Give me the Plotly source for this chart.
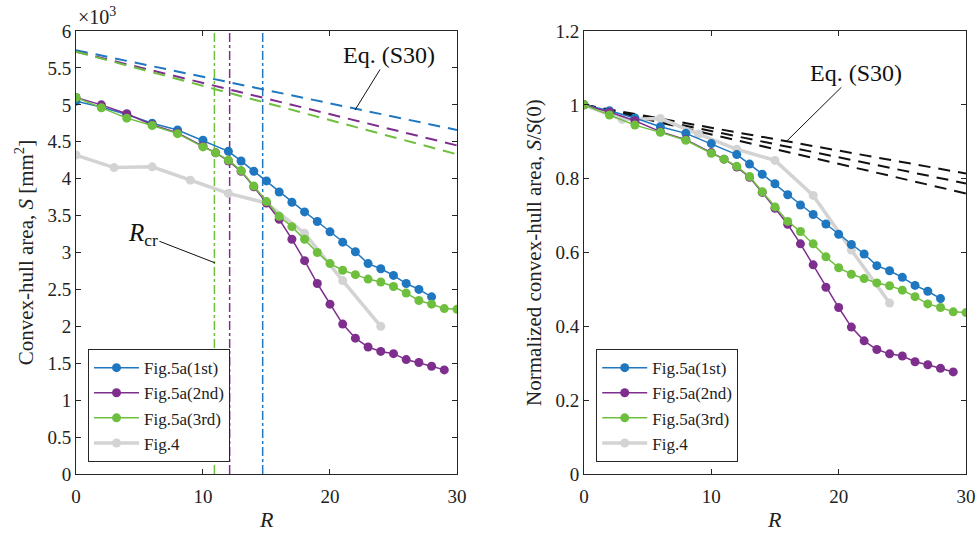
import plotly.graph_objects as go

# ---------------- data ----------------
R_1st = [0, 2, 4, 6, 8, 10, 12, 13, 14, 15, 16, 17, 18, 19, 20, 21, 22, 23, 24, 25, 26, 27, 28]
S_1st = [5.05, 4.97, 4.87, 4.75, 4.66, 4.52, 4.37, 4.24, 4.10, 3.97, 3.82, 3.68, 3.55, 3.42,
         3.28, 3.14, 3.01, 2.85, 2.78, 2.69, 2.58, 2.50, 2.40]

R_2nd = [0, 2, 4, 6, 8, 10, 11, 12, 13, 14, 15, 16, 17, 18, 19, 20, 21, 22, 23, 24, 25, 26, 27, 28, 29]
S_2nd = [5.10, 5.00, 4.88, 4.73, 4.62, 4.44, 4.35, 4.24, 4.10, 3.89, 3.67, 3.45, 3.18, 2.89,
         2.58, 2.30, 2.03, 1.84, 1.72, 1.66, 1.63, 1.55, 1.51, 1.46, 1.41]

R_3rd = [0, 2, 4, 6, 8, 10, 11, 12, 13, 14, 15, 16, 17, 18, 19, 20, 21, 22, 23, 24, 25, 26, 27,
         28, 29, 30]
S_3rd = [5.10, 4.96, 4.82, 4.72, 4.61, 4.43, 4.35, 4.25, 4.11, 3.90, 3.69, 3.49, 3.35, 3.18,
         3.00, 2.85, 2.76, 2.70, 2.64, 2.60, 2.54, 2.45, 2.35, 2.30, 2.24, 2.23]

R_fig4 = [0, 3, 6, 9, 12, 15, 18, 21, 24]
S_fig4 = [4.32, 4.15, 4.16, 3.98, 3.80, 3.67, 3.26, 2.62, 2.00]

# Eq. (S30) dashed lines (values at R = 0 and R = 30), left panel, x10^3 mm^2
R_eq = [0, 30]
S_eq_1st = [5.74, 4.66]
S_eq_2nd = [5.72, 4.45]
S_eq_3rd = [5.72, 4.33]
# Eq. (S30) normalized, right panel
N_eq = [[1.0, 0.814], [1.0, 0.787], [1.0, 0.760]]

# critical R (vertical dash-dot lines)
Rcr_1st = 14.7
Rcr_2nd = 12.1
Rcr_3rd = 10.9

names = ["Fig.5a(1st)", "Fig.5a(2nd)", "Fig.5a(3rd)", "Fig.4"]

# ---------------- styles ----------------
C_BLUE = "#1f77c0"
C_PURP = "#7E2F8E"
C_GREEN = "#6fbf3f"
C_GRAY = "#d3d3d3"
FONT = "Liberation Serif"
AX = "#262626"

series = [
    (R_1st, S_1st, C_BLUE, 1.5, names[0]),
    (R_2nd, S_2nd, C_PURP, 1.5, names[1]),
    (R_3rd, S_3rd, C_GREEN, 1.5, names[2]),
    (R_fig4, S_fig4, C_GRAY, 3.5, names[3]),
]

fig = go.Figure()

# ---- left panel ----
for S_eq, col in [(S_eq_1st, C_BLUE), (S_eq_2nd, C_PURP), (S_eq_3rd, C_GREEN)]:
    fig.add_trace(go.Scatter(x=R_eq, y=S_eq, mode="lines", showlegend=False,
                             line=dict(color=col, width=2, dash="12px,8px"),
                             xaxis="x", yaxis="y", hoverinfo="skip"))
for rc, col in [(Rcr_1st, C_BLUE), (Rcr_2nd, C_PURP), (Rcr_3rd, C_GREEN)]:
    fig.add_trace(go.Scatter(x=[rc, rc], y=[0, 6], mode="lines", showlegend=False,
                             line=dict(color=col, width=1.5, dash="dashdot"),
                             xaxis="x", yaxis="y", hoverinfo="skip"))

order = [3, 0, 1, 2]
for i in order:
    R, S, col, w, nm = series[i]
    fig.add_trace(go.Scatter(x=R, y=S, mode="lines+markers", name=nm,
                             line=dict(color=col, width=w),
                             marker=dict(color=col, size=9),
                             xaxis="x", yaxis="y", legend="legend",
                             legendrank=i + 1))

# ---- right panel ----
for ne in N_eq:
    fig.add_trace(go.Scatter(x=R_eq, y=ne, mode="lines", showlegend=False,
                             line=dict(color="#111111", width=2, dash="12px,8px"),
                             xaxis="x2", yaxis="y2", hoverinfo="skip"))
for i in order:
    R, S, col, w, nm = series[i]
    N = [s / S[0] for s in S]
    fig.add_trace(go.Scatter(x=R, y=N, mode="lines+markers", name=nm,
                             line=dict(color=col, width=w),
                             marker=dict(color=col, size=9),
                             xaxis="x2", yaxis="y2", legend="legend2",
                             legendrank=i + 1))

axis_common = dict(showgrid=False, zeroline=False, showline=True, linecolor=AX,
                   linewidth=1, mirror="ticks", ticks="inside", ticklen=5,
                   tickcolor=AX, tickfont=dict(family=FONT, size=19, color="#222"),
                   automargin=False)

legend_common = dict(xanchor="left", yanchor="top", bgcolor="white",
                     bordercolor=AX, borderwidth=1,
                     font=dict(family=FONT, size=17), tracegroupgap=0,
                     itemwidth=45)

fig.update_layout(
    width=979, height=533,
    margin=dict(l=0, r=0, t=0, b=0),
    paper_bgcolor="white", plot_bgcolor="white",
    font=dict(family=FONT, color="#222"),
    xaxis=dict(domain=[0.0776, 0.4668], range=[0, 30], tickvals=[0, 10, 20, 30],
               ticklabelstandoff=5, anchor="y", **axis_common),
    yaxis=dict(domain=[0.1107, 0.9418], range=[0, 6], dtick=0.5,
               title=dict(text="Convex-hull area, <i>S</i> [mm<sup>2</sup>]",
                          font=dict(family=FONT, size=21), standoff=8),
               anchor="x", **axis_common),
    xaxis2=dict(domain=[0.5965, 0.9867], range=[0, 30], tickvals=[0, 10, 20, 30],
                ticklabelstandoff=5, anchor="y2", **axis_common),
    yaxis2=dict(domain=[0.1107, 0.9418], range=[0, 1.2], dtick=0.2,
                title=dict(text="Normalized convex-hull area, <i>S</i>/<i>S</i>(0)",
                           font=dict(family=FONT, size=21), standoff=8),
                anchor="x2", **axis_common),
    legend=dict(x=0.0899, y=0.345, **legend_common),
    legend2=dict(x=0.609, y=0.345, **legend_common),
    showlegend=True,
)

# x-axis titles
for xc in [(0.0776 + 0.4668) / 2, (0.5965 + 0.9867) / 2]:
    fig.add_annotation(xref="paper", yref="paper", x=xc, y=0.026, xanchor="center",
                       yanchor="middle", showarrow=False, text="<i>R</i>",
                       font=dict(family=FONT, size=22, color="#222"))

fig.add_annotation(xref="paper", yref="paper", x=0.078, y=0.944, xanchor="left",
                   yanchor="bottom", showarrow=False,
                   text="×10<sup>3</sup>", font=dict(family=FONT, size=20, color="#222"))

fig.add_annotation(xref="x", yref="y", x=10.94, y=2.86, ax=-72, ay=-28,
                   axref="pixel", ayref="pixel", showarrow=True, arrowhead=0,
                   arrowwidth=1, arrowcolor="#111",
                   text="<i>R</i><sub>cr</sub>", font=dict(family=FONT, size=25, color="#111"))

fig.add_annotation(xref="x", yref="y", x=21.97, y=4.93, ax=34, ay=-55,
                   showarrow=True, arrowhead=0, arrowwidth=1, arrowcolor="#111",
                   text="Eq. (S30)", font=dict(family=FONT, size=24, color="#111"))

fig.add_annotation(xref="x2", yref="y2", x=15.87, y=0.90, ax=70, ay=-69,
                   showarrow=True, arrowhead=0, arrowwidth=1, arrowcolor="#111",
                   text="Eq. (S30)", font=dict(family=FONT, size=24, color="#111"))

fig.write_html("out.html", config={"displayModeBar": False},
               post_script="document.body.style.margin='0';document.body.style.padding='0';")
